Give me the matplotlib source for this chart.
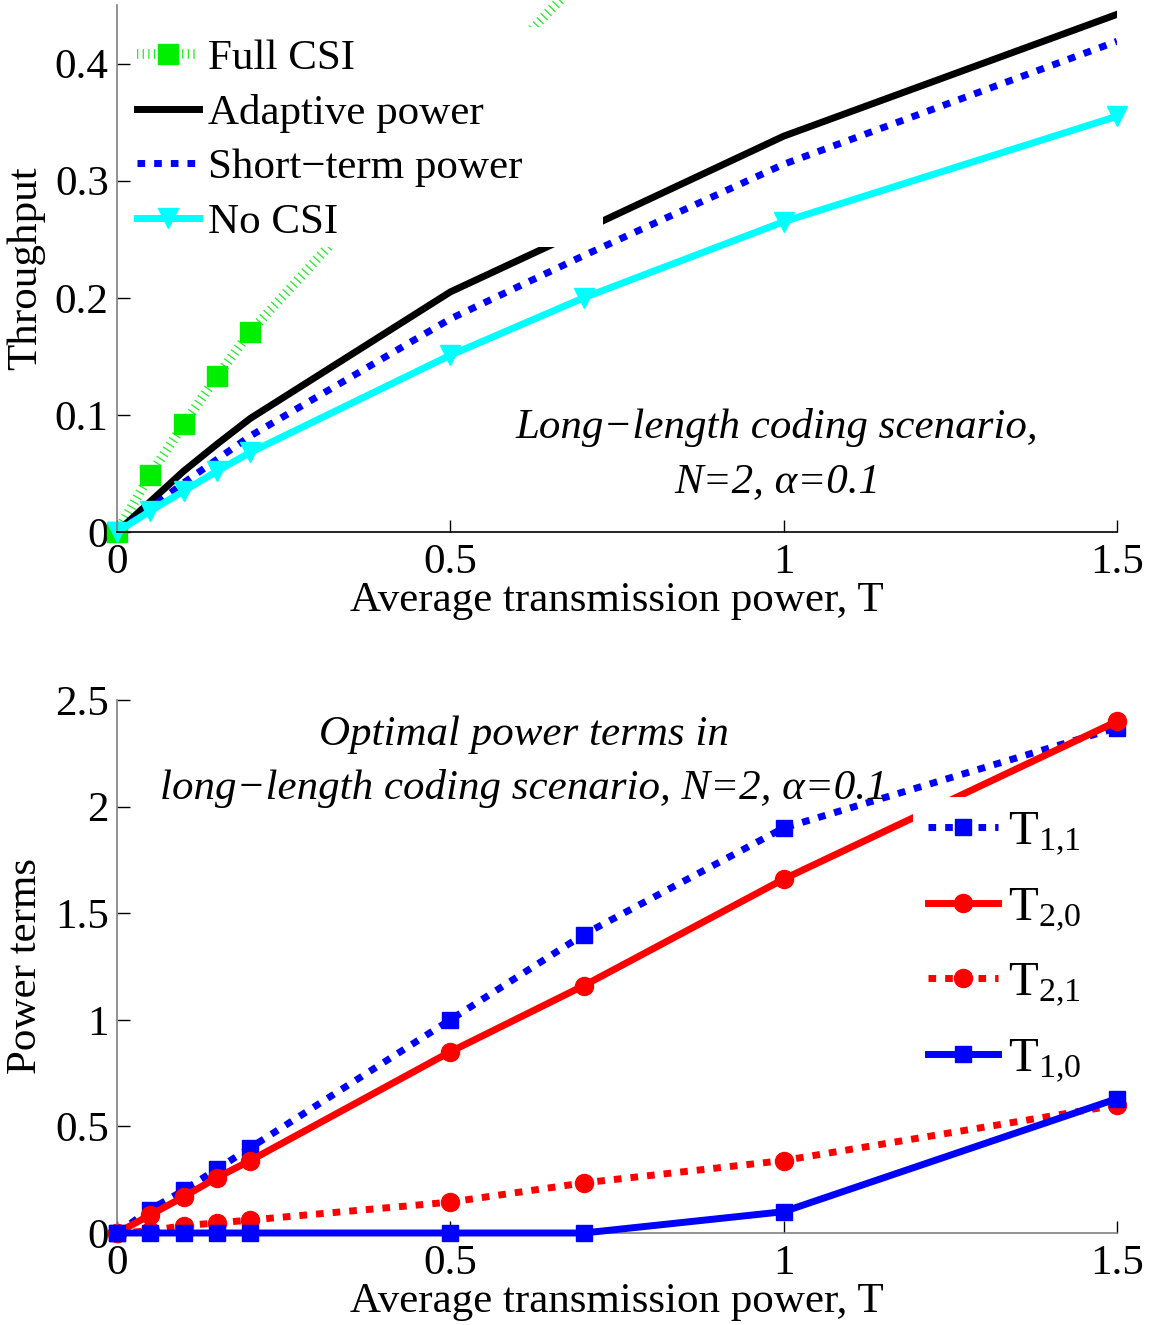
import matplotlib
matplotlib.use("Agg")
import matplotlib.pyplot as plt
from matplotlib.patches import Rectangle
from matplotlib.transforms import Affine2D

plt.rcParams['font.family'] = ['Liberation Serif', 'DejaVu Serif']
plt.rcParams['mathtext.fontset'] = 'custom'
plt.rcParams['mathtext.rm'] = 'Liberation Serif'
plt.rcParams['mathtext.it'] = 'Liberation Serif:italic'

# ---------------- data ----------------
T = [0, 0.05, 0.1, 0.15, 0.2, 0.5, 0.7, 1.0, 1.5]

full_csi = [0, 0.049, 0.092, 0.133, 0.171, 0.357, 0.475, 0.64, 0.88]
adaptive = [0, 0.026, 0.052, 0.075, 0.097, 0.205, 0.258, 0.338, 0.442]
short_term = [0, 0.02, 0.042, 0.062, 0.082, 0.182, 0.236, 0.314, 0.419]
no_csi = [0, 0.018, 0.035, 0.052, 0.068, 0.151, 0.200, 0.265, 0.355]

t11 = [0, 0.11, 0.20, 0.30, 0.40, 1.00, 1.40, 1.90, 2.37]
t20 = [0, 0.085, 0.17, 0.26, 0.34, 0.85, 1.16, 1.66, 2.40]
t21 = [0, 0.01, 0.035, 0.047, 0.061, 0.145, 0.235, 0.34, 0.60]
t10 = [0, 0, 0, 0, 0, 0, 0, 0.10, 0.63]

xticks = [0, 0.5, 1, 1.5]
xticklabels = ['0', '0.5', '1', '1.5']
top_yticks = [0, 0.1, 0.2, 0.3, 0.4]
top_yticklabels = ['0', '0.1', '0.2', '0.3', '0.4']
bot_yticks = [0, 0.5, 1, 1.5, 2, 2.5]
bot_yticklabels = ['0', '0.5', '1', '1.5', '2', '2.5']

FS = 31

fig = plt.figure(figsize=(11.55, 13.25), dpi=100)
W, H = 1155, 1325

def axes_px(left, right, top, bottom):
    return fig.add_axes([left / W, 1 - bottom / H, (right - left) / W, (bottom - top) / H])

def style(ax):
    ax.spines['top'].set_visible(False)
    ax.spines['right'].set_visible(False)
    ax.spines['left'].set_color('#808080')
    ax.spines['left'].set_linewidth(1.2)
    ax.spines['bottom'].set_linewidth(1.2)
    ax.tick_params(direction='in', length=9, width=1, labelsize=FS, pad=6)
    ax.tick_params(axis='x', pad=8)
    ax.set_xlim(0, 1.5)
    ax.set_xticks(xticks)
    ax.set_xticklabels(xticklabels)

def px_rect(ax, left, top, right, bottom):
    # white background box given in figure pixels
    r = Rectangle((left, H - bottom), right - left, bottom - top,
                  transform=Affine2D(), facecolor='white', edgecolor='none',
                  zorder=4, clip_on=False)
    ax.add_artist(r)

# ---------------- top ----------------
ax1 = axes_px(117, 1117, 5, 532)
style(ax1)
ax1.spines['bottom'].set_color('black')
ax1.set_ylim(0, 0.45)
ax1.set_yticks(top_yticks)
ax1.set_yticklabels(top_yticklabels)

l_full, = ax1.plot(T, full_csi, color='#22ee22', lw=7, dashes=(0.13, 0.45),
                   dash_capstyle='butt', marker='s', ms=15, mfc='#00ee00', mec='#00ee00',
                   label='Full CSI', zorder=2)
l_ad, = ax1.plot(T, adaptive, color='black', lw=5, label='Adaptive power', zorder=2)
l_st, = ax1.plot(T, short_term, color='blue', lw=5, dashes=(1.1, 1.3),
                 dash_capstyle='butt', label='Short\u2212term power', zorder=2)
l_no, = ax1.plot(T, no_csi, color='cyan', lw=5, marker='v', ms=15,
                 mfc='cyan', mec='cyan', label='No CSI', zorder=2)
for l in (l_full, l_no):
    l.set_clip_on(False)

px_rect(ax1, 135, 27, 603, 247)

leg1 = ax1.legend(handles=[l_full, l_ad, l_st, l_no], loc='upper left',
                  bbox_to_anchor=((137 - 117) / 1000, (532 - 39) / 527), borderaxespad=0,
                  frameon=False, fontsize=FS, handlelength=1.45, handletextpad=0.2,
                  labelspacing=0.36, borderpad=0)
leg1.set_zorder(5)

ax1.text(0.66, 0.147, 'Long\u2212length coding scenario,\nN=2, \u03b1=0.1',
         transform=ax1.transAxes, ha='center', va='center', fontsize=FS,
         style='italic', linespacing=1.5, zorder=6)

ax1.set_xlabel('Average transmission power, T', fontsize=FS, labelpad=0)
ax1.set_ylabel('Throughput', fontsize=FS)
ax1.yaxis.set_label_coords((45 - 117) / 1000, 0.5)

# ---------------- bottom ----------------
ax2 = axes_px(117, 1117, 700, 1233)
style(ax2)
ax2.spines['bottom'].set_color('#808080')
ax2.set_ylim(0, 2.5)
ax2.set_yticks(bot_yticks)
ax2.set_yticklabels(bot_yticklabels)

b11, = ax2.plot(T, t11, color='blue', lw=5, dashes=(1.1, 1.3), dash_capstyle='butt',
                marker='s', ms=11, mfc='blue', mec='blue',
                label=r'$\mathrm{T}_{1{,}1}$', zorder=2)
b20, = ax2.plot(T, t20, color='red', lw=5, marker='o', ms=13, mfc='red', mec='red',
                label=r'$\mathrm{T}_{2{,}0}$', zorder=2)
b21, = ax2.plot(T, t21, color='red', lw=5, dashes=(1.1, 1.3), dash_capstyle='butt',
                marker='o', ms=13, mfc='red', mec='red',
                label=r'$\mathrm{T}_{2{,}1}$', zorder=2)
b10, = ax2.plot(T, t10, color='blue', lw=5, marker='s', ms=11, mfc='blue', mec='blue',
                label=r'$\mathrm{T}_{1{,}0}$', zorder=3)
for l in (b11, b20, b21, b10):
    l.set_clip_on(False)

px_rect(ax2, 913, 797, 1085, 1088)

leg2 = ax2.legend(handles=[b11, b20, b21, b10], loc='upper left',
                  bbox_to_anchor=((928 - 117) / 1000, (1233 - 810) / 533), borderaxespad=0,
                  frameon=False, fontsize=FS + 4, handlelength=1.45, handletextpad=0.2,
                  labelspacing=0.58, borderpad=0)
leg2.set_zorder(5)

ax2.text(0.407, 0.884, 'Optimal power terms in\nlong\u2212length coding scenario, N=2, \u03b1=0.1',
         transform=ax2.transAxes, ha='center', va='center', fontsize=FS,
         style='italic', linespacing=1.5, zorder=6)

ax2.set_xlabel('Average transmission power, T', fontsize=FS, labelpad=0)
ax2.set_ylabel('Power terms', fontsize=FS)
ax2.yaxis.set_label_coords((45 - 117) / 1000, 0.5)

fig.savefig('out.png', dpi=100)
